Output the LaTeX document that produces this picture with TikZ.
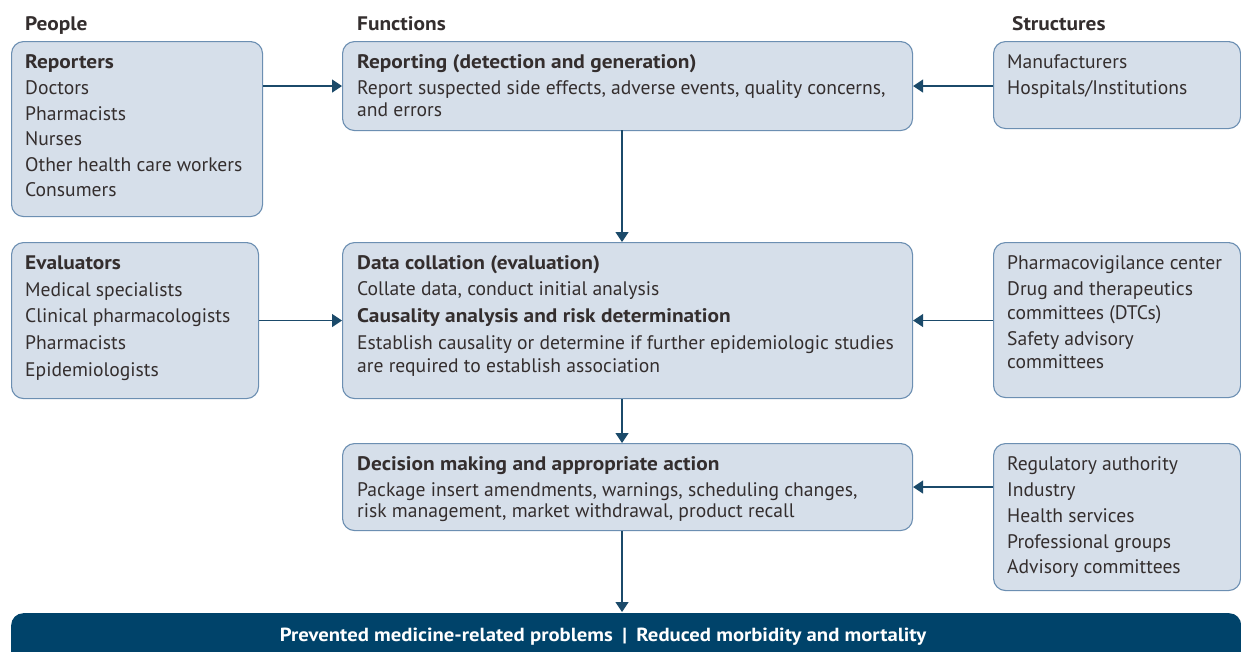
\documentclass[tikz,border=0pt]{standalone}
\usepackage{fontspec}
\setmainfont{PT Sans}[BoldFeatures={FakeStretch=1.09}]
\usetikzlibrary{arrows.meta}
\definecolor{boxfill}{RGB}{214,223,234}
\definecolor{boxline}{RGB}{108,143,178}
\definecolor{arrowc}{RGB}{27,74,106}
\definecolor{barc}{RGB}{0,67,106}
\definecolor{txt}{RGB}{52,46,46}
\tikzset{
  box/.style={draw=boxline, fill=boxfill, line width=1.1pt, rounded corners=12pt, anchor=north west, inner sep=0pt},
  t/.style={anchor=base west, inner sep=0pt, font=\fontsize{19.6}{22}\selectfont, text=txt},
  tb/.style={t, font=\fontsize{19.6}{22}\selectfont\bfseries},
  arr/.style={draw=arrowc, line width=1.3pt, -{Triangle[width=13pt,length=10pt]}, arrowc}
}
\begin{document}
\begin{tikzpicture}[x=1pt,y=-1pt]
\clip (0,0) rectangle (1241,651);
\fill[white] (0,0) rectangle (1241,651);
% headers
\node[tb] (hp) at (25,30) {People};
\node[tb] (hf) at (357,30) {Functions};
\node[tb] (hs) at (1012,30) {Structures};
% boxes
\node[box, minimum width=251pt, minimum height=175pt] (rep) at (11,41) {};
\node[box, minimum width=570pt, minimum height=89pt] (f1) at (342,41) {};
\node[box, minimum width=247pt, minimum height=87pt] (s1) at (993,41) {};
\node[box, minimum width=247pt, minimum height=156pt] (ev) at (11,242) {};
\node[box, minimum width=570pt, minimum height=156pt] (f2) at (342,242) {};
\node[box, minimum width=247pt, minimum height=155pt] (s2) at (993,242) {};
\node[box, minimum width=570pt, minimum height=87pt] (f3) at (342,443) {};
\node[box, minimum width=247pt, minimum height=147pt] (s3) at (993,443) {};
\node[fill=barc, rounded corners=12pt, anchor=north west, inner sep=0pt, minimum width=1230pt, minimum height=60pt] (bar) at (11,613) {};
% texts: reporters
\node[tb] (r0) at (25,68) {Reporters};
\node[t] (r1) at (25,94) {Doctors};
\node[t] (r2) at (25,120) {Pharmacists};
\node[t] (r3) at (25,145) {Nurses};
\node[t] (r4) at (25,171) {Other health care workers};
\node[t] (r5) at (25,196) {Consumers};
% reporting
\node[tb] (a0) at (357,68) {Reporting (detection and generation)};
\node[t] (a1) at (357,94) {Report suspected side effects, adverse events, quality concerns,};
\node[t] (a2) at (357,116) {and errors};
% manufacturers
\node[t] (m1) at (1007,68) {Manufacturers};
\node[t] (m2) at (1007,94) {Hospitals/Institutions};
% evaluators
\node[tb] (e0) at (25,269) {Evaluators};
\node[t] (e1) at (25,296) {Medical specialists};
\node[t] (e2) at (25,322) {Clinical pharmacologists};
\node[t] (e3) at (25,349) {Pharmacists};
\node[t] (e4) at (25,376) {Epidemiologists};
% data collation
\node[tb] (d0) at (357,269) {Data collation (evaluation)};
\node[t] (d1) at (357,295) {Collate data, conduct initial analysis};
\node[tb] (d2) at (357,322) {Causality analysis and risk determination};
\node[t] (d3) at (357,349) {Establish causality or determine if further epidemiologic studies};
\node[t] (d4) at (357,372) {are required to establish association};
% pharmacovigilance
\node[t] (p1) at (1007,269) {Pharmacovigilance center};
\node[t] (p2) at (1007,295) {Drug and therapeutics};
\node[t] (p3) at (1007,319) {committees (DTCs)};
\node[t] (p4) at (1007,345) {Safety advisory};
\node[t] (p5) at (1007,368) {committees};
% decision
\node[tb] (c0) at (357,470) {Decision making and appropriate action};
\node[t] (c1) at (357,496) {Package insert amendments, warnings, scheduling changes,};
\node[t] (c2) at (357,517) {risk management, market withdrawal, product recall};
% regulatory
\node[t] (g1) at (1007,470) {Regulatory authority};
\node[t] (g2) at (1007,496) {Industry};
\node[t] (g3) at (1007,522) {Health services};
\node[t] (g4) at (1007,548) {Professional groups};
\node[t] (g5) at (1007,573) {Advisory committees};
% bar text
\node[anchor=base, inner sep=0pt, text=white, font=\fontsize{19}{22}\selectfont\bfseries] (bt) at (603,641) {Prevented medicine-related problems\enspace|\enspace Reduced morbidity and mortality};
% connectors
\coordinate (barTop) at (622,612);
\draw[arr] (rep.east |- f1.west) -- (f1.west);
\draw[arr] (s1.west |- f1.east) -- (f1.east);
\draw[arr] (ev.east |- f2.west) -- (f2.west);
\draw[arr] (s2.west |- f2.east) -- (f2.east);
\draw[arr] (s3.west |- f3.east) -- (f3.east);
\draw[arr] (622,130) -- (f2.north -| 622,0);
\draw[arr] (f2.south -| 622,0) -- (f3.north -| 622,0);
\draw[arr] (f3.south -| 622,0) -- (barTop);
\end{tikzpicture}
\end{document}
